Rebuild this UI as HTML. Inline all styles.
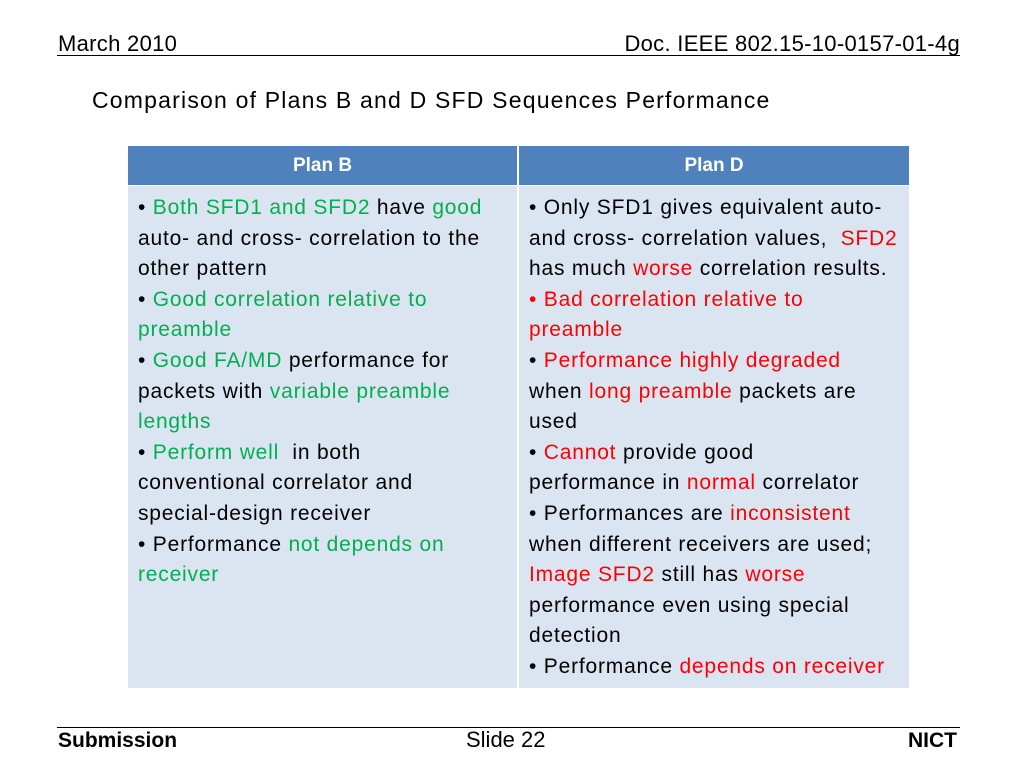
<!DOCTYPE html>
<html><head><meta charset="utf-8"><style>
body{margin:0;width:1024px;height:768px;background:#fff;position:relative;font-family:"Liberation Sans",sans-serif;overflow:hidden}
.abs{position:absolute}
.hdr{font-size:22px;color:#000;top:31px;letter-spacing:0.3px}
.rule{position:absolute;left:57px;width:903px;height:1px;background:#000}
.tbl{position:absolute;left:128px;top:146px;width:781px;height:542px}
.th{position:absolute;top:0;height:39px;background:#4F81BD;color:#fff;font-size:19px;font-weight:bold;display:flex;align-items:center;justify-content:center}
.td{position:absolute;top:40px;height:502px;background:#DBE5F1;font-size:21px;letter-spacing:0.8px;line-height:30.6px;color:#000;white-space:nowrap;padding-top:7px;box-sizing:border-box;padding-left:10px}
.g{color:#00B050}.r{color:#FF0000}
.ft{font-size:21px;top:729px}
</style></head><body>
<div class="abs hdr" style="left:58px">March 2010</div>
<div class="abs hdr" style="right:64px">Doc. IEEE 802.15-10-0157-01-4g</div>
<div class="rule" style="top:55px"></div>
<div class="abs" style="left:92px;top:87px;font-size:23px;letter-spacing:1.2px">Comparison of Plans B and D SFD Sequences Performance</div>
<div class="tbl">
<div class="th" style="left:0;width:389px">Plan B</div>
<div class="th" style="left:391px;width:390px">Plan D</div>
<div class="td" style="left:0;width:389px">
• <span class="g">Both SFD1 and SFD2</span> have <span class="g">good</span><br>auto- and cross- correlation to the<br>other pattern<br>• <span class="g">Good correlation relative to<br>preamble</span><br>• <span class="g">Good FA/MD</span> performance for<br>packets with <span class="g">variable preamble<br>lengths</span><br>• <span class="g">Perform well</span>&nbsp; in both<br>conventional correlator and<br>special-design receiver<br>• Performance <span class="g">not depends on<br>receiver</span>
</div>
<div class="td" style="left:391px;width:390px">
• Only SFD1 gives equivalent auto-<br>and cross- correlation values,&nbsp; <span class="r">SFD2</span><br>has much <span class="r">worse</span> correlation results.<br><span class="r">• Bad correlation relative to<br>preamble</span><br>• <span class="r">Performance highly degraded</span><br>when <span class="r">long preamble</span> packets are<br>used<br>• <span class="r">Cannot</span> provide good<br>performance in <span class="r">normal</span> correlator<br>• Performances are <span class="r">inconsistent</span><br>when different receivers are used;<br><span class="r">Image SFD2</span> still has <span class="r">worse</span><br>performance even using special<br>detection<br>• Performance <span class="r">depends on receiver</span>
</div>
</div>
<div class="rule" style="top:727px"></div>
<div class="abs ft" style="left:58px;font-weight:bold">Submission</div>
<div class="abs ft" style="left:466px;font-size:22px;top:727px">Slide 22</div>
<div class="abs ft" style="right:67px;font-weight:bold">NICT</div>
</body></html>
